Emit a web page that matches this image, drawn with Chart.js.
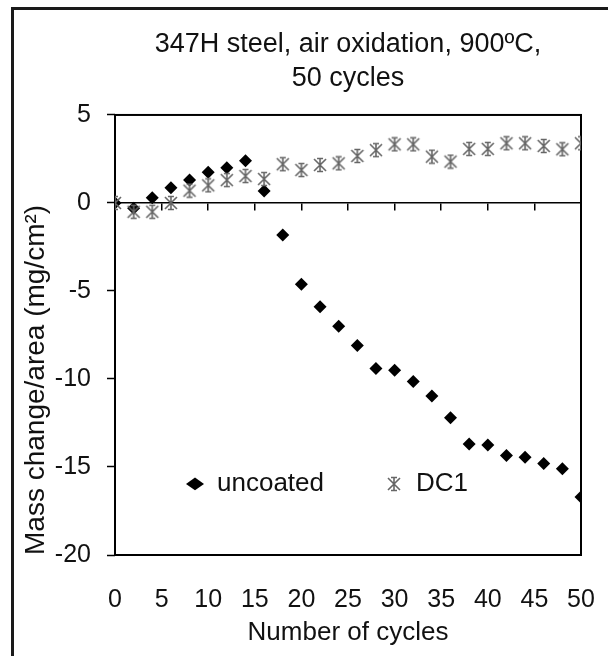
<!DOCTYPE html>
<html>
<head>
<meta charset="utf-8">
<script src="https://cdn.jsdelivr.net/npm/chart.js@4"></script>
<style>
  body { margin: 0; background: #fff; }
  #wrap { position: relative; width: 608px; height: 656px; }
  #frame {
    position: absolute; left: 11px; top: 7px; right: 0; bottom: 0;
    border-top: 3px solid #1a1a1a; border-left: 3px solid #1a1a1a;
    pointer-events: none;
  }
</style>
</head>
<body>
<div id="wrap">
  <canvas id="oxChart" width="608" height="656"></canvas>
  <div id="frame"></div>
</div>
<script>
// 347H steel, air oxidation at 900C, mass change per cycle
const cycles = [0, 2, 4, 6, 8, 10, 12, 14, 16, 18, 20, 22, 24, 26, 28, 30, 32, 34, 36, 38, 40, 42, 44, 46, 48, 50];
const uncoated = [0, -0.3, 0.3, 0.87, 1.3, 1.74, 2.0, 2.4, 0.68, -1.82, -4.62, -5.9, -7.0, -8.1, -9.4, -9.5, -10.15, -10.97, -12.2, -13.7, -13.75, -14.35, -14.45, -14.8, -15.1, -16.7];
const dc1 = [0, -0.5, -0.5, 0, 0.7, 1.0, 1.3, 1.53, 1.36, 2.2, 1.87, 2.16, 2.25, 2.67, 3.0, 3.33, 3.33, 2.63, 2.35, 3.07, 3.07, 3.39, 3.39, 3.24, 3.05, 3.39];
const seriesNames = ["uncoated", "DC1"];
const titleLines = ["347H steel, air oxidation, 900\u00baC,", "50 cycles"];

const FONT = "'Liberation Sans', Arial, sans-serif";
const INK = "#111";

// excel style star marker (X + vertical bar with caps)
function starMarker() {
  const c = document.createElement("canvas");
  c.width = 16;
  c.height = 16;
  const g = c.getContext("2d");
  g.strokeStyle = "#666";
  g.lineWidth = 1.6;
  g.beginPath();
  g.moveTo(2, 2); g.lineTo(14, 14);
  g.moveTo(14, 2); g.lineTo(2, 14);
  g.moveTo(8, 1); g.lineTo(8, 15);
  g.moveTo(5, 1.5); g.lineTo(11, 1.5);
  g.moveTo(5, 14.5); g.lineTo(11, 14.5);
  g.stroke();
  return c;
}

const toXY = (ys) => cycles.map((c, i) => ({ x: c, y: ys[i] }));

// box around plot + legend laid out in one row inside the plot
const plotFrame = {
  id: "plotFrame",
  beforeLayout(chart) {
    if (chart.legend) chart.legend.isHorizontal = () => true;
  },
  afterLayout(chart) {
    const lg = chart.legend;
    const ca = chart.chartArea;
    lg.maxWidth = 2000;
    lg.fit();
    const h = lg.height;
    lg.left = ca.left + 10;
    lg.width = 480;
    lg.right = lg.left + 480;
    lg.top = ca.top + 295;
    lg.bottom = lg.top + h;
  },
  beforeDatasetsDraw(chart) {
    const { ctx, chartArea: a } = chart;
    ctx.save();
    ctx.strokeStyle = "#000";
    ctx.lineWidth = 2;
    ctx.strokeRect(a.left, a.top, a.right - a.left, a.bottom - a.top);
    ctx.restore();
  },
};

new Chart(document.getElementById("oxChart"), {
  type: "scatter",
  data: {
    datasets: [
      {
        label: seriesNames[0],
        data: toXY(uncoated),
        pointStyle: "rectRot",
        pointRadius: 6.5,
        backgroundColor: "#000",
        borderColor: "#000",
        borderWidth: 0,
        order: 1,
      },
      {
        label: seriesNames[1],
        data: toXY(dc1),
        pointStyle: starMarker(),
        pointRadius: 8,
        backgroundColor: "#666",
        borderColor: "#666",
        order: 0,
      },
    ],
  },
  options: {
    responsive: false,
    animation: false,
    devicePixelRatio: 1,
    layout: { padding: 0 },
    plugins: {
      title: {
        display: true,
        text: titleLines,
        fullSize: false,
        color: INK,
        font: { family: FONT, size: 27, weight: "normal", lineHeight: 1.24 },
        padding: { top: 28, bottom: 20 },
      },
      legend: {
        position: "chartArea",
        align: "start",
        labels: {
          usePointStyle: true,
          pointStyleWidth: 18,
          boxHeight: 9,
          padding: 61,
          color: INK,
          font: { family: FONT, size: 26 },
          sort: (a, b) => a.datasetIndex - b.datasetIndex,
        },
      },
      tooltip: { enabled: false },
    },
    scales: {
      x: {
        type: "linear",
        min: 0,
        max: 50,
        afterFit: (s) => {
          s.height = 101;
          s.paddingRight = 27;
          s.paddingLeft = 14;
        },
        ticks: { stepSize: 5, padding: 30, color: INK, font: { family: FONT, size: 25 } },
        grid: { display: false, drawTicks: false },
        border: { display: false },
        title: {
          display: true,
          text: "Number of cycles",
          color: INK,
          font: { family: FONT, size: 26 },
          padding: { top: 0, bottom: 8 },
        },
      },
      xZero: {
        type: "linear",
        axis: "x",
        position: { y: 0 },
        min: 0,
        max: 50,
        ticks: { display: false, stepSize: 5 },
        grid: { drawOnChartArea: false, drawTicks: true, tickLength: 7, color: "#000", lineWidth: 1.5 },
        border: { display: true, color: "#000", width: 1.5 },
      },
      y: {
        min: -20,
        max: 5,
        afterFit: (s) => { s.width = 115; },
        ticks: { stepSize: 5, padding: 16, color: INK, font: { family: FONT, size: 25 } },
        grid: { drawOnChartArea: false, drawTicks: true, tickLength: 8, tickColor: "#000", tickWidth: 1.5 },
        border: { display: false },
        title: {
          display: true,
          text: "Mass change/area (mg/cm\u00b2)",
          align: "start",
          color: INK,
          font: { family: FONT, size: 28 },
          padding: { top: 19, bottom: 0 },
        },
      },
    },
  },
  plugins: [plotFrame],
});
</script>
</body>
</html>
